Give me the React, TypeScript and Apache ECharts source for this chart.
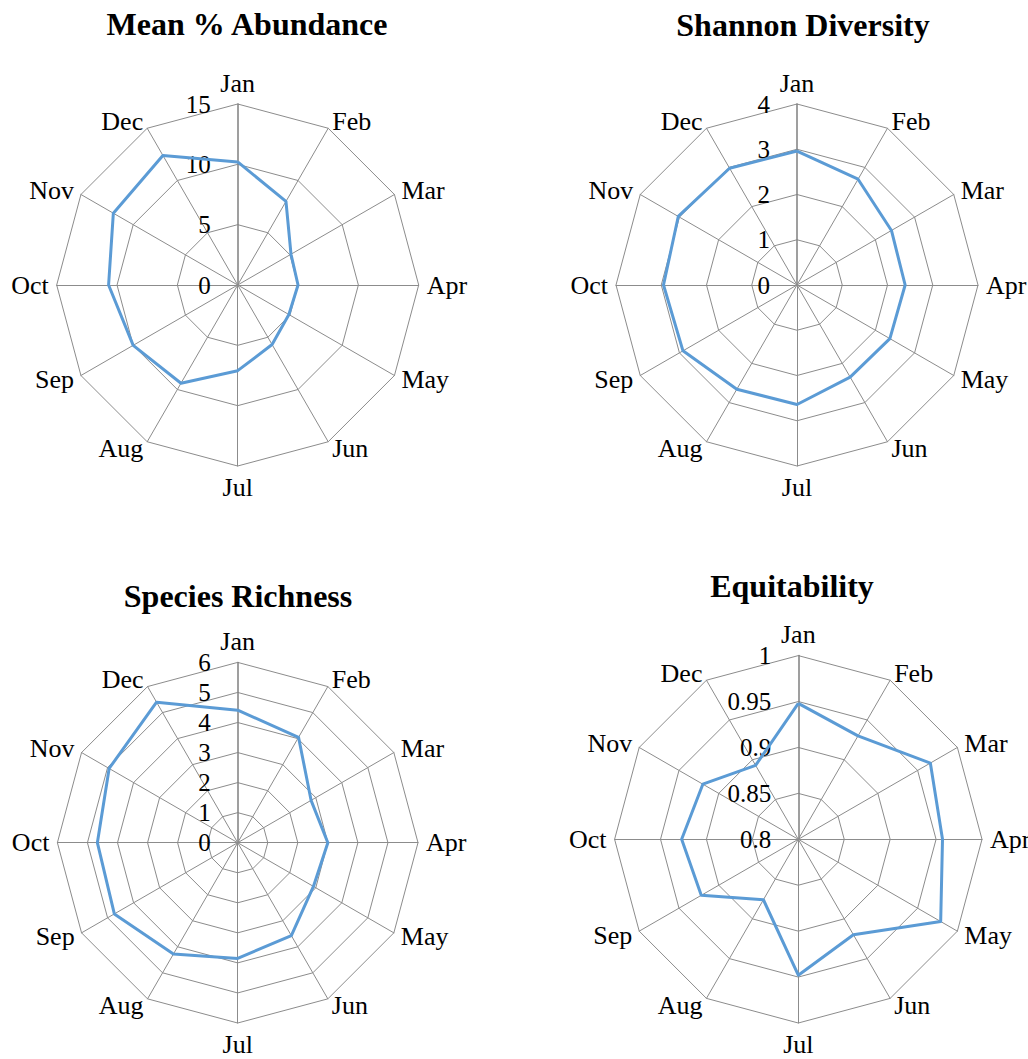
import React, { useEffect, useRef } from 'react';
import * as echarts from 'echarts';

const months = ['Jan', 'Feb', 'Mar', 'Apr', 'May', 'Jun', 'Jul', 'Aug', 'Sep', 'Oct', 'Nov', 'Dec'];
const abundance = [10.2, 8.0, 5.1, 5.0, 4.9, 5.7, 7.1, 9.4, 10.0, 10.7, 11.9, 12.4];
const shannon = [2.96, 2.7, 2.41, 2.39, 2.37, 2.35, 2.64, 2.66, 2.91, 2.95, 3.03, 2.98];
const richness = [4.41, 4.05, 2.82, 3.0, 2.91, 3.57, 3.85, 4.28, 4.74, 4.67, 4.94, 5.4];
const equitability = [0.948, 0.93, 0.966, 0.957, 0.979, 0.92, 0.948, 0.876, 0.922, 0.927, 0.92, 0.893];

const titles = ['Mean % Abundance', 'Shannon Diversity', 'Species Richness', 'Equitability'];
const seriesValues = [abundance, shannon, richness, equitability];
const axisMin = [0, 0, 0, 0.8];
const axisMax = [15, 4, 6, 1];
const splits = [3, 4, 6, 4];

const layout = [
  { cx: 237.7, cy: 285, r: 181, tx: 242, ty: 3 },
  { cx: 797, cy: 285, r: 181, tx: 798, ty: 4 },
  { cx: 237.7, cy: 842.7, r: 180.3, tx: 233, ty: 575 },
  { cx: 798.3, cy: 839.3, r: 183.7, tx: 787, ty: 565 },
];

const FONT = "'Liberation Serif', 'Times New Roman', serif";
const LINE_BLUE = '#5B9BD5';
const GRID = '#8c8c8c';

// ECharts radar runs counter-clockwise; reorder so months run clockwise
const order = [0, 11, 10, 9, 8, 7, 6, 5, 4, 3, 2, 1];

export default function App() {
  const ref = useRef<HTMLDivElement>(null);
  useEffect(() => {
    document.body.style.margin = '0';
    const chart = echarts.init(ref.current!, undefined, { renderer: 'svg' });
    const radar = layout.map((l, i) => ({
      center: [l.cx, l.cy],
      radius: l.r,
      startAngle: 90,
      shape: 'polygon',
      splitNumber: splits[i],
      indicator: order.map((k, j) => {
        const ind: any = {
          name: months[k],
          min: axisMin[i],
          max: axisMax[i],
          axisLabel: { show: j === 0 },
        };
        if (j === 0) ind.axisLine = { lineStyle: { color: '#7f7f7f', width: 1.5 } };
        return ind;
      }),
      axisName: { color: '#000', fontSize: 26, fontFamily: FONT },
      nameGap: 8,
      axisLine: { show: true, lineStyle: { color: GRID, width: 1 } },
      splitLine: { show: true, lineStyle: { color: GRID, width: 1 } },
      splitArea: { show: false },
      axisTick: { show: false },
      axisLabel: {
        show: false,
        color: '#000',
        fontSize: 25,
        fontFamily: FONT,
        margin: 27,
        formatter: (v: number) => String(+Number(v).toFixed(4)),
      },
    }));
    const series = seriesValues.map((vals, i) => ({
      type: 'radar',
      radarIndex: i,
      symbol: 'none',
      lineStyle: { color: LINE_BLUE, width: 3 },
      itemStyle: { color: LINE_BLUE },
      data: [{ value: order.map((k) => vals[k]), name: titles[i] }],
    }));
    chart.setOption({
      animation: false,
      backgroundColor: '#fff',
      title: layout.map((l, i) => ({
        text: titles[i],
        left: l.tx,
        top: l.ty,
        textAlign: 'center',
        textStyle: { fontFamily: FONT, fontWeight: 'bold', fontSize: 32, color: '#000' },
      })),
      radar,
      series,
    });
    return () => chart.dispose();
  }, []);
  return <div ref={ref} style={{ position: 'fixed', left: 0, top: 0, width: 1028, height: 1059 }} />;
}
